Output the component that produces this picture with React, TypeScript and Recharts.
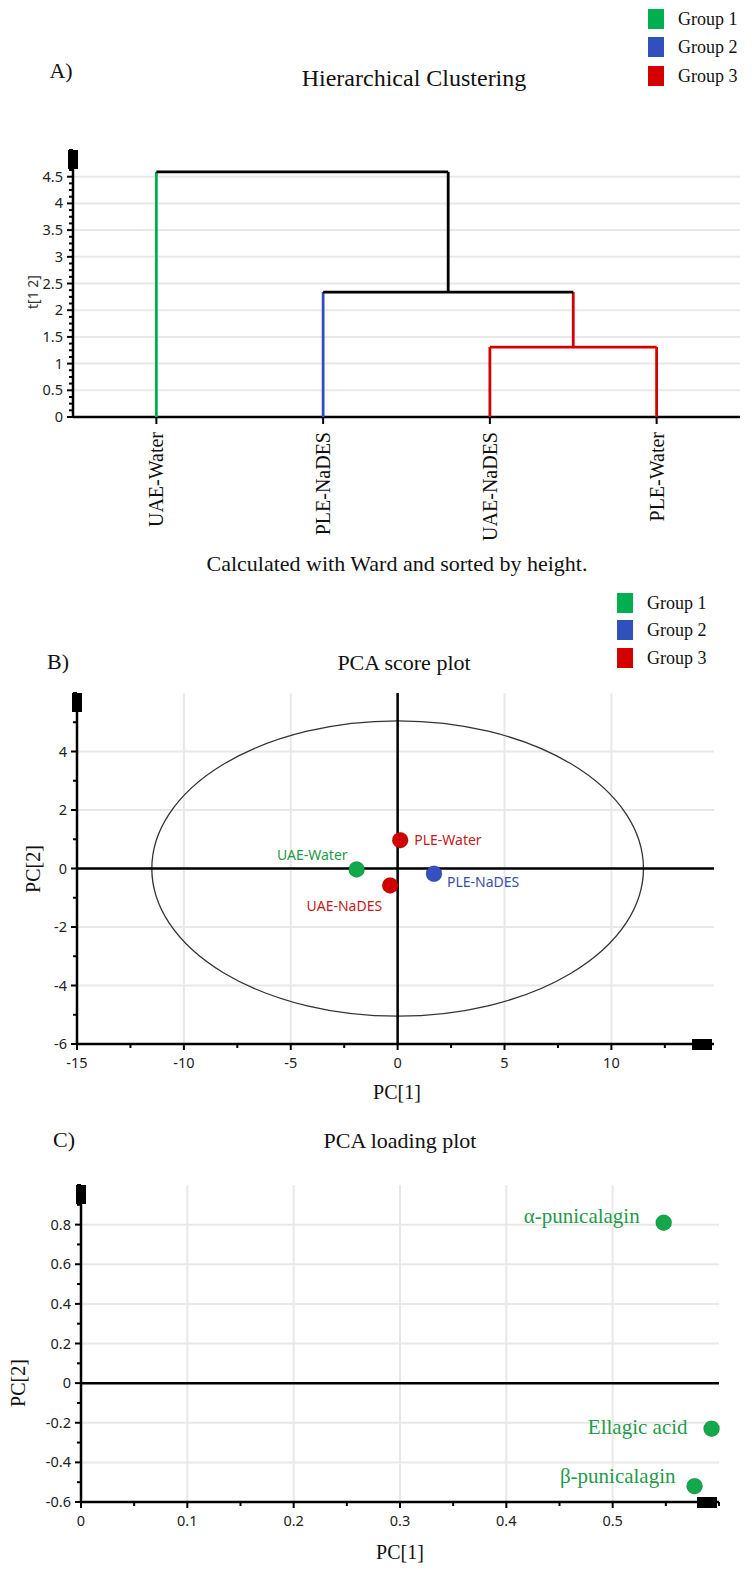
import React from 'react';
import {
  ScatterChart,
  Scatter,
  XAxis,
  YAxis,
  CartesianGrid,
  ReferenceLine,
  ReferenceDot,
  ReferenceArea,
} from 'recharts';

const SERIF = '"Liberation Serif", "Times New Roman", serif';
const SANS = '"Noto Sans", "Open Sans", sans-serif';

const groupNames = ['Group 1', 'Group 2', 'Group 3'];
const groupColors: Record<number, string> = { 0: '#000000', 1: '#00b050', 2: '#3050be', 3: '#d40000' };
const pointColors: Record<number, string> = { 1: '#12a84b', 2: '#3650c0', 3: '#d00000' };
const labelColors: Record<number, string> = { 1: '#1f9a4a', 2: '#3a4fa6', 3: '#c41a1a' };

// A) hierarchical clustering (Ward)
const leafNames = ['UAE-Water', 'PLE-NaDES', 'UAE-NaDES', 'PLE-Water'];
const leafGroups = [1, 2, 3, 3];
// node ids: 0..3 leaves, 4.. merges in order
const mergeLeft = [2, 1, 0];
const mergeRight = [3, 4, 5];
const mergeHeights = [1.31, 2.34, 4.59];
const heightTicks = [0, 0.5, 1, 1.5, 2, 2.5, 3, 3.5, 4, 4.5];

// B) score plot
const scoreNames = ['UAE-Water', 'PLE-Water', 'UAE-NaDES', 'PLE-NaDES'];
const scoreGroups = [1, 3, 3, 2];
const scorePC1 = [-1.92, 0.12, -0.35, 1.7];
const scorePC2 = [-0.03, 0.97, -0.58, -0.18];
const scoreTicksX = [-15, -10, -5, 0, 5, 10];
const scoreTicksY = [-6, -4, -2, 0, 2, 4];
const hotellingRadii = [11.5, 5.05];

// C) loading plot
const loadingNames = ['α-punicalagin', 'Ellagic acid', 'β-punicalagin'];
const loadingPC1 = [0.548, 0.593, 0.577];
const loadingPC2 = [0.81, -0.23, -0.52];
const loadingTicksX = [0, 0.1, 0.2, 0.3, 0.4, 0.5];
const loadingTicksY = [-0.6, -0.4, -0.2, 0, 0.2, 0.4, 0.6, 0.8];

// label placement (dx, dy, anchor) around each point
const scoreLabelPos: Record<string, [number, number, 'start' | 'end']> = {
  'UAE-Water': [-9, -14, 'end'],
  'PLE-Water': [14, 0, 'start'],
  'PLE-NaDES': [13, 8, 'start'],
  'UAE-NaDES': [-8, 21, 'end'],
};
const loadingLabelPos: Record<string, [number, number]> = {
  'α-punicalagin': [-24, -7],
  'Ellagic acid': [-24, -2],
  'β-punicalagin': [-19, -11],
};

const round = (v: number) => Math.round(v * 1e6) / 1e6;

function tickRange(min: number, max: number, step: number) {
  const out: number[] = [];
  for (let i = 0; min + i * step <= max + 1e-9; i++) out.push(round(min + i * step));
  return out;
}

function buildDendrogram() {
  const nx = leafNames.map((_, i) => i + 0.5);
  const nh = leafNames.map(() => 0);
  const ng = [...leafGroups];
  const segs: { pts: { x: number; y: number }[]; color: string }[] = [];
  mergeHeights.forEach((h, k) => {
    const l = mergeLeft[k];
    const r = mergeRight[k];
    const g = ng[l] === ng[r] ? ng[l] : 0;
    segs.push({ pts: [{ x: nx[l], y: nh[l] }, { x: nx[l], y: h }], color: groupColors[ng[l]] });
    segs.push({ pts: [{ x: nx[r], y: nh[r] }, { x: nx[r], y: h }], color: groupColors[ng[r]] });
    segs.push({ pts: [{ x: nx[l], y: h }, { x: nx[r], y: h }], color: groupColors[g] });
    nx.push((nx[l] + nx[r]) / 2);
    nh.push(h);
    ng.push(g);
  });
  return segs;
}

const isMajor = (v: number, majors: number[]) => majors.some((m) => Math.abs(m - v) < 1e-6);

function LeftTick(props: any) {
  const { y, payload, majors, axisX } = props;
  const x = axisX;
  const major = isMajor(payload.value, majors);
  return (
    <g>
      <line x1={x - (major ? 6 : 4)} x2={x} y1={y} y2={y} stroke="#000" strokeWidth={2} />
      {major && (
        <text x={x - 10} y={y} dy="0.35em" textAnchor="end" fontFamily={SANS} fontSize={14.5} fill="#222">
          {String(round(payload.value))}
        </text>
      )}
    </g>
  );
}

function BottomTick(props: any) {
  const { x, payload, majors, axisY } = props;
  const y = axisY;
  const major = isMajor(payload.value, majors);
  return (
    <g>
      <line x1={x} x2={x} y1={y} y2={y + (major ? 6 : 4)} stroke="#000" strokeWidth={2} />
      {major && (
        <text x={x} y={y + 19} dy="0.35em" textAnchor="middle" fontFamily={SANS} fontSize={14.5} fill="#222">
          {String(round(payload.value))}
        </text>
      )}
    </g>
  );
}

function LeafTick(props: any) {
  const { x, payload, axisY } = props;
  const y = axisY;
  const name = leafNames[Math.floor(payload.value)];
  return (
    <g>
      <line x1={x} x2={x} y1={y} y2={y + 7} stroke="#000" strokeWidth={2} />
      <text
        transform={`translate(${x}, ${y + 15}) rotate(-90)`}
        textAnchor="end"
        dominantBaseline="central"
        fontFamily={SERIF}
        fontSize={20}
        fill="#111"
      >
        {name}
      </text>
    </g>
  );
}

const topMarker = (p: any) => <rect x={p.cx - 5} y={p.cy} width={10} height={19} fill="#000" />;
const rightMarker = (p: any) => <rect x={p.cx - 22} y={p.cy - 5} width={20} height={11} fill="#000" />;
const noDot = () => <g />;

function Txt({ x, y, size = 20, font = SERIF, color = '#111', rotate = 0, children }: any) {
  return (
    <div
      style={{
        position: 'absolute',
        left: x,
        top: y,
        transform: `translate(-50%, -50%) rotate(${rotate}deg)`,
        fontFamily: font,
        fontSize: size,
        color,
        whiteSpace: 'nowrap',
        lineHeight: 1,
      }}
    >
      {children}
    </div>
  );
}

function GroupLegend({ x, y, gap }: { x: number; y: number; gap: number[] }) {
  return (
    <>
      {groupNames.map((n, i) => (
        <div key={n} style={{ position: 'absolute', left: x, top: y + gap[i], display: 'flex', alignItems: 'center' }}>
          <div style={{ width: 16, height: 20, background: groupColors[i + 1] }} />
          <span style={{ marginLeft: 14, fontFamily: SERIF, fontSize: 18, color: '#111', lineHeight: 1 }}>{n}</span>
        </div>
      ))}
    </>
  );
}

export default function App() {
  const segs = buildDendrogram();
  const hAllTicks = tickRange(0, 5, 0.125);

  const scoreData = scoreNames.map((n, i) => ({ name: n, group: scoreGroups[i], x: scorePC1[i], y: scorePC2[i] }));
  const loadingData = loadingNames.map((n, i) => ({ name: n, x: loadingPC1[i], y: loadingPC2[i] }));
  const bXTicks = tickRange(-15, 14.8, 2.5);
  const bYTicks = tickRange(-6, 6, 1);
  const cXTicks = tickRange(0, 0.6, 0.05);
  const cYTicks = tickRange(-0.6, 1.0, 0.1);

  const scoreShape = (p: any) => {
    const d = p.payload;
    const [dx, dy, anchor] = scoreLabelPos[d.name];
    return (
      <g>
        <circle cx={p.cx} cy={p.cy} r={8} fill={pointColors[d.group]} stroke="rgba(0,0,0,0.15)" />
        <text x={p.cx + dx} y={p.cy + dy} dy="0.35em" textAnchor={anchor} fontFamily={SANS} fontSize={14} fill={labelColors[d.group]}>
          {d.name}
        </text>
      </g>
    );
  };

  const loadingShape = (p: any) => {
    const d = p.payload;
    const [dx, dy] = loadingLabelPos[d.name];
    return (
      <g>
        <circle cx={p.cx} cy={p.cy} r={8} fill={pointColors[1]} stroke="rgba(0,0,0,0.15)" />
        <text x={p.cx + dx} y={p.cy + dy} dy="0.35em" textAnchor="end" fontFamily={SERIF} fontSize={21} fill={labelColors[1]}>
          {d.name}
        </text>
      </g>
    );
  };

  return (
    <div style={{ position: 'absolute', left: 0, top: 0, width: 754, height: 1571, background: '#fff' }}>
      {/* A */}
      <div style={{ position: 'absolute', left: 0, top: 0 }}>
        <ScatterChart width={754} height={570} margin={{ top: 150, right: 14, bottom: 0, left: 0 }}>
          <CartesianGrid stroke="#e8e8e8" strokeWidth={2} vertical={false} horizontalValues={heightTicks} />
          <XAxis
            type="number"
            dataKey="x"
            domain={[0, 4]}
            ticks={[0.5, 1.5, 2.5, 3.5]}
            interval={0}
            height={153}
            tickSize={0}
            tickMargin={0}
            tickLine={false}
            axisLine={{ stroke: '#000', strokeWidth: 2.5 }}
            tick={(p: any) => <LeafTick {...p} axisY={417} />}
          />
          <YAxis
            type="number"
            dataKey="y"
            domain={[0, 5]}
            ticks={hAllTicks}
            interval={0}
            width={73}
            tickSize={0}
            tickMargin={0}
            tickLine={false}
            axisLine={{ stroke: '#000', strokeWidth: 2.5 }}
            tick={(p: any) => <LeftTick {...p} majors={heightTicks} axisX={73} />}
          />
          {segs.map((s, i) => (
            <Scatter
              key={i}
              data={s.pts}
              fill={s.color}
              line={{ stroke: s.color, strokeWidth: 2.8 }}
              shape={noDot}
              isAnimationActive={false}
            />
          ))}
          <ReferenceDot x={0} y={5} r={0} ifOverflow="visible" shape={topMarker} />
        </ScatterChart>
      </div>

      {/* B */}
      <div style={{ position: 'absolute', left: 0, top: 600 }}>
        <ScatterChart width={754} height={500} margin={{ top: 93, right: 40, bottom: 0, left: 0 }}>
          <CartesianGrid stroke="#e8e8e8" strokeWidth={2} horizontalValues={scoreTicksY} verticalValues={scoreTicksX} />
          <XAxis
            type="number"
            dataKey="x"
            domain={[-15, 14.8]}
            ticks={bXTicks}
            interval={0}
            height={56}
            tickSize={0}
            tickMargin={0}
            tickLine={false}
            axisLine={{ stroke: '#000', strokeWidth: 2.5 }}
            tick={(p: any) => <BottomTick {...p} majors={scoreTicksX} axisY={444} />}
          />
          <YAxis
            type="number"
            dataKey="y"
            domain={[-6, 6]}
            ticks={bYTicks}
            interval={0}
            width={77}
            tickSize={0}
            tickMargin={0}
            tickLine={false}
            axisLine={{ stroke: '#000', strokeWidth: 2.5 }}
            tick={(p: any) => <LeftTick {...p} majors={scoreTicksY} axisX={77} />}
          />
          <ReferenceArea
            x1={-hotellingRadii[0]}
            x2={hotellingRadii[0]}
            y1={-hotellingRadii[1]}
            y2={hotellingRadii[1]}
            ifOverflow="visible"
            shape={(p: any) => (
              <ellipse
                cx={p.x + p.width / 2}
                cy={p.y + p.height / 2}
                rx={Math.abs(p.width) / 2}
                ry={Math.abs(p.height) / 2}
                fill="none"
                stroke="#333"
                strokeWidth={1.3}
              />
            )}
          />
          <ReferenceLine x={0} stroke="#000" strokeWidth={2.5} />
          <ReferenceLine y={0} stroke="#000" strokeWidth={2.5} />
          <Scatter data={scoreData} shape={scoreShape} isAnimationActive={false} />
          <ReferenceDot x={-15} y={6} r={0} ifOverflow="visible" shape={topMarker} />
          <ReferenceDot x={14.8} y={-6} r={0} ifOverflow="visible" shape={rightMarker} />
        </ScatterChart>
      </div>

      {/* C */}
      <div style={{ position: 'absolute', left: 0, top: 1100 }}>
        <ScatterChart width={754} height={471} margin={{ top: 85, right: 35, bottom: 0, left: 0 }}>
          <CartesianGrid stroke="#e8e8e8" strokeWidth={2} horizontalValues={loadingTicksY} verticalValues={loadingTicksX} />
          <XAxis
            type="number"
            dataKey="x"
            domain={[0, 0.6]}
            ticks={cXTicks}
            interval={0}
            height={69}
            tickSize={0}
            tickMargin={0}
            tickLine={false}
            axisLine={{ stroke: '#000', strokeWidth: 2.5 }}
            tick={(p: any) => <BottomTick {...p} majors={loadingTicksX} axisY={402} />}
          />
          <YAxis
            type="number"
            dataKey="y"
            domain={[-0.6, 1.0]}
            ticks={cYTicks}
            interval={0}
            width={81}
            tickSize={0}
            tickMargin={0}
            tickLine={false}
            axisLine={{ stroke: '#000', strokeWidth: 2.5 }}
            tick={(p: any) => <LeftTick {...p} majors={loadingTicksY} axisX={81} />}
          />
          <ReferenceLine y={0} stroke="#000" strokeWidth={2.5} />
          <Scatter data={loadingData} shape={loadingShape} isAnimationActive={false} />
          <ReferenceDot x={0} y={1.0} r={0} ifOverflow="visible" shape={topMarker} />
          <ReferenceDot x={0.6} y={-0.6} r={0} ifOverflow="visible" shape={rightMarker} />
        </ScatterChart>
      </div>

      {/* titles, axis names, legends */}
      <Txt x={61} y={71} size={22}>A)</Txt>
      <Txt x={414} y={78} size={24}>Hierarchical Clustering</Txt>
      <GroupLegend x={648} y={9} gap={[0, 28, 57]} />
      <Txt x={33} y={292} size={14} font={SANS} color="#333" rotate={-90}>t[1 2]</Txt>
      <Txt x={397} y={564} size={22}>Calculated with Ward and sorted by height.</Txt>

      <Txt x={58} y={662} size={22}>B)</Txt>
      <Txt x={404} y={663} size={22}>PCA score plot</Txt>
      <GroupLegend x={617} y={593} gap={[0, 27, 55]} />
      <Txt x={33} y={869} size={20} rotate={-90}>PC[2]</Txt>
      <Txt x={397} y={1092} size={20}>PC[1]</Txt>

      <Txt x={64} y={1140} size={22}>C)</Txt>
      <Txt x={400} y={1141} size={22}>PCA loading plot</Txt>
      <Txt x={18} y={1383} size={20} rotate={-90}>PC[2]</Txt>
      <Txt x={400} y={1552} size={20}>PC[1]</Txt>
    </div>
  );
}
